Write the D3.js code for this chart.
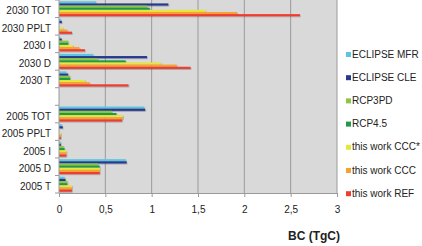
<!DOCTYPE html>
<html>
<head>
<meta charset="utf-8">
<script src="https://cdn.jsdelivr.net/npm/d3@7"></script>
<style>
  body { margin: 0; background: #fff; }
  svg text { font-family: "Liberation Sans", Arial, sans-serif; fill: #222; }
</style>
</head>
<body>
<div id="chart"></div>
<script>
// categories top to bottom, '' is the empty gap between the two years
var categories = ['2030 TOT', '2030 PPLT', '2030 I', '2030 D', '2030 T', '',
  '2005 TOT', '2005 PPLT', '2005 I', '2005 D', '2005 T'];
var seriesNames = ['ECLIPSE MFR', 'ECLIPSE CLE', 'RCP3PD', 'RCP4.5',
  'this work CCC*', 'this work CCC', 'this work REF'];
var seriesColors = ['#5cc6e0', '#26398f', '#8cc63f', '#1e9a49', '#e6e63c', '#f7a034', '#ee3c2e'];

// one array per series, same order as categories
var eclipseMfr = [0.40, 0.02, 0.01, 0.37, 0.08, 0, 0.92, 0.03, 0.02, 0.72, 0.06];
var eclipseCle = [1.18, 0.03, 0.03, 0.95, 0.10, 0, 0.93, 0.04, 0.02, 0.73, 0.07];
var rcp3pd     = [0.95, 0.00, 0.10, 0.42, 0.12, 0, 0.57, 0.00, 0.05, 0.42, 0.09];
var rcp45      = [0.98, 0.00, 0.10, 0.72, 0.12, 0, 0.62, 0.00, 0.06, 0.44, 0.09];
var workCccStar = [1.58, 0.04, 0.15, 1.10, 0.28, 0, 0.69, 0.02, 0.08, 0.44, 0.14];
var workCcc    = [1.92, 0.09, 0.22, 1.27, 0.33, 0, 0.69, 0.02, 0.08, 0.44, 0.14];
var workRef    = [2.60, 0.14, 0.28, 1.42, 0.75, 0, 0.68, 0.02, 0.08, 0.44, 0.14];
var allSeries = [eclipseMfr, eclipseCle, rcp3pd, rcp45, workCccStar, workCcc, workRef];

var xTicks = [0, 0.5, 1, 1.5, 2, 2.5, 3];
var xTickLabels = ['0', '0,5', '1', '1,5', '2', '2,5', '3'];

var width = 422, height = 246;
var plotLeft = 59, plotRight = 337, plotTop = 0, plotBottom = 193;

var svg = d3.select('#chart').append('svg')
  .attr('width', width)
  .attr('height', height);

var defs = svg.append('defs');
defs.append('filter').attr('id', 'shadow')
  .attr('x', '-5%').attr('y', '-50%').attr('width', '110%').attr('height', '200%')
  .append('feDropShadow')
  .attr('dx', 0.6).attr('dy', 0.8).attr('stdDeviation', 0.5)
  .attr('flood-color', '#000').attr('flood-opacity', 0.3);

var x = d3.scaleLinear().domain([0, 3]).range([plotLeft, plotRight]);
var y = d3.scaleBand().domain(d3.range(categories.length)).range([plotTop, plotBottom]);
var ySeries = d3.scaleBand().domain(d3.range(seriesNames.length))
  .range([0, y.bandwidth()]).paddingOuter(0.6);

// plot background
svg.append('rect')
  .attr('x', plotLeft).attr('y', plotTop)
  .attr('width', plotRight - plotLeft).attr('height', plotBottom - plotTop)
  .attr('fill', '#d9d9d9');

// vertical gridlines
svg.selectAll('line.grid')
  .data(xTicks.slice(1))
  .enter().append('line')
  .attr('class', 'grid')
  .attr('x1', function(d) { return x(d); })
  .attr('x2', function(d) { return x(d); })
  .attr('y1', plotTop).attr('y2', plotBottom)
  .attr('stroke', '#9a9a9a')
  .attr('stroke-width', 1);

// bars
var groups = svg.selectAll('g.series')
  .data(allSeries)
  .enter().append('g')
  .attr('class', 'series')
  .attr('fill', function(d, i) { return seriesColors[i]; })
  .attr('filter', 'url(#shadow)');

groups.each(function(values, si) {
  d3.select(this).selectAll('rect')
    .data(values)
    .enter().append('rect')
    .attr('x', x(0))
    .attr('y', function(d, ci) { return y(ci) + ySeries(si); })
    .attr('width', function(d) { return x(d) - x(0); })
    .attr('height', ySeries.bandwidth());
});

// x axis
var xAxis = d3.axisBottom(x)
  .tickValues(xTicks)
  .tickFormat(function(d, i) { return xTickLabels[i]; })
  .tickSize(4)
  .tickPadding(9);
var gx = svg.append('g')
  .attr('transform', 'translate(0,' + plotBottom + ')')
  .call(xAxis);
gx.select('.domain').attr('stroke', '#9a9a9a');
gx.selectAll('.tick line').attr('stroke', '#9a9a9a');
gx.selectAll('.tick text')
  .attr('font-size', 10)
  .attr('font-family', '"Liberation Sans", Arial, sans-serif')
  .attr('fill', '#222');

// y axis: ticks on band boundaries, labels at band centres
var boundaries = d3.range(categories.length + 1).map(function(i) { return plotTop + i * y.step(); });
svg.append('line')
  .attr('x1', plotLeft).attr('x2', plotLeft)
  .attr('y1', plotTop).attr('y2', plotBottom)
  .attr('stroke', '#9a9a9a');
svg.selectAll('line.ytick')
  .data(boundaries)
  .enter().append('line')
  .attr('class', 'ytick')
  .attr('x1', plotLeft - 4).attr('x2', plotLeft)
  .attr('y1', function(d) { return d; })
  .attr('y2', function(d) { return d; })
  .attr('stroke', '#9a9a9a');
svg.selectAll('text.ylabel')
  .data(categories)
  .enter().append('text')
  .attr('class', 'ylabel')
  .attr('x', 51)
  .attr('y', function(d, i) { return y(i) + y.bandwidth() / 2; })
  .attr('dy', '0.55em')
  .attr('text-anchor', 'end')
  .attr('font-size', 10)
  .text(function(d) { return d; });

// x title
svg.append('text')
  .attr('x', 314).attr('y', 240)
  .attr('text-anchor', 'middle')
  .attr('font-size', 12)
  .attr('font-weight', 'bold')
  .text('BC (TgC)');

// legend
var legend = svg.selectAll('g.legend')
  .data(seriesNames)
  .enter().append('g')
  .attr('class', 'legend')
  .attr('transform', function(d, i) { return 'translate(346,' + (57 + i * 23.2) + ')'; });
legend.append('rect')
  .attr('x', 0).attr('y', -5)
  .attr('width', 5).attr('height', 5)
  .attr('fill', function(d, i) { return seriesColors[i]; });
legend.append('text')
  .attr('x', 6).attr('y', 0)
  .attr('dy', '0.05em')
  .attr('font-size', 10)
  .text(function(d) { return d; });
</script>
</body>
</html>
